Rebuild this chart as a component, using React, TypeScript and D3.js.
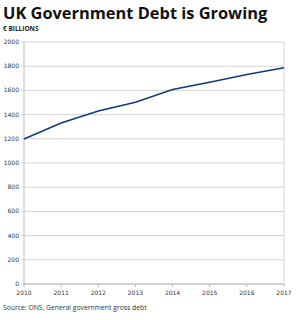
import React from "react";
import * as d3 from "d3";

const years = [2010, 2011, 2012, 2013, 2014, 2015, 2016, 2017];
const debt = [1198, 1330, 1430, 1502, 1607, 1667, 1732, 1787];
const yTicks = [0, 200, 400, 600, 800, 1000, 1200, 1400, 1600, 1800, 2000];

const width = 296;
const height = 320;
const left = 24;
const right = 284;
const top = 42;
const bottom = 284;

const App = () => {
  const xScale = d3.scaleLinear().domain([2010, 2017]).range([left, right]);
  const yScale = d3.scaleLinear().domain([0, 2000]).range([bottom, top]);

  const line = d3
    .line<number>()
    .x((d, i) => xScale(years[i]))
    .y((d) => yScale(d));

  const font = "'DejaVu Sans', sans-serif";

  return (
    <svg
      width={width}
      height={height}
      style={{ position: "absolute", left: 0, top: 0, background: "#fff" }}
    >
      <text
        x={3}
        y={19}
        fontFamily="'Open Sans', sans-serif"
        fontWeight="bold"
        fontSize={16.4}
        fill="#111"
      >
        UK Government Debt is Growing
      </text>
      <text
        x={3}
        y={31}
        fontFamily="'Open Sans', sans-serif"
        fontWeight="bold"
        fontSize={6.5}
        fill="#222"
      >
        € BILLIONS
      </text>

      {yTicks.map((t) => (
        <g key={t}>
          <line
            x1={left - 3}
            x2={right}
            y1={yScale(t)}
            y2={yScale(t)}
            stroke="#d4d4d4"
            strokeWidth={1}
          />
          <text
            x={left - 5}
            y={yScale(t) + 2}
            textAnchor="end"
            fontFamily={font}
            fontSize={6}
            fill="#333"
          >
            {t}
          </text>
        </g>
      ))}

      <line x1={left} x2={left} y1={top} y2={bottom} stroke="#bbb" />
      <line x1={right} x2={right} y1={top} y2={bottom} stroke="#d4d4d4" />
      <line x1={left} x2={right} y1={bottom} y2={bottom} stroke="#bbb" />

      {years.map((yr) => (
        <g key={yr}>
          <line
            x1={xScale(yr)}
            x2={xScale(yr)}
            y1={bottom}
            y2={bottom + 3}
            stroke="#bbb"
          />
          <text
            x={xScale(yr)}
            y={bottom + 11}
            textAnchor="middle"
            fontFamily={font}
            fontSize={6}
            fill="#333"
          >
            {yr}
          </text>
        </g>
      ))}

      <path
        d={line(debt) || ""}
        fill="none"
        stroke="#14397a"
        strokeWidth={1.6}
      />

      <text
        x={3}
        y={310}
        fontFamily="'Open Sans', sans-serif"
        fontSize={6.8}
        fill="#333"
      >
        Source: ONS, General government gross debt
      </text>
    </svg>
  );
};

export default App;
